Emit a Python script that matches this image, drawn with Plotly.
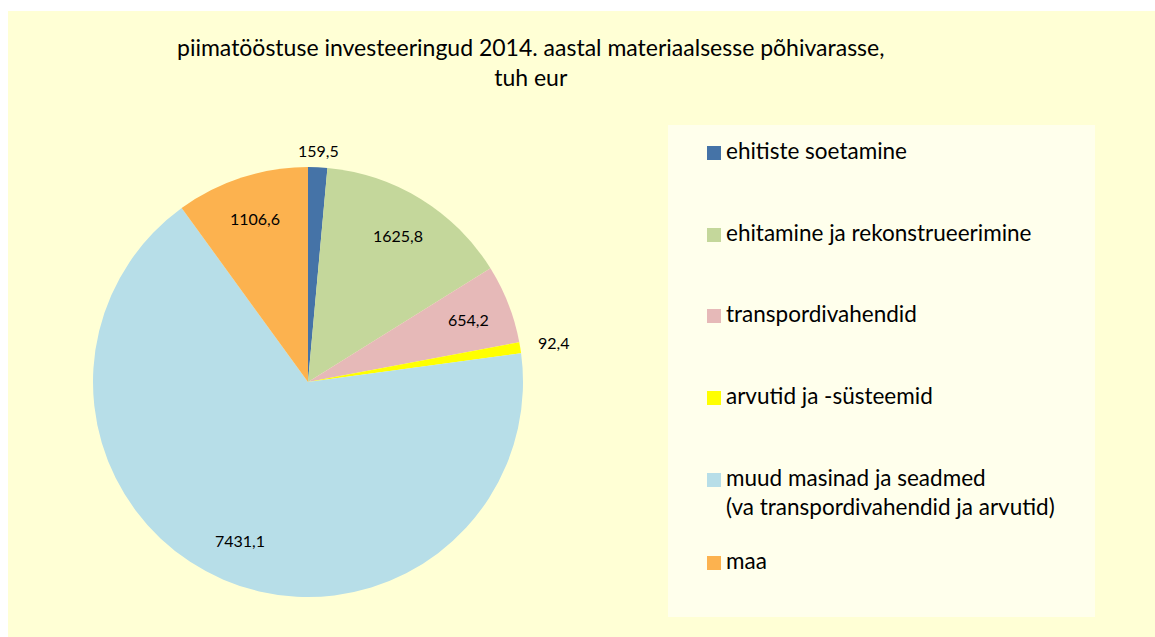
import math
import plotly.graph_objects as go

W, H = 1155, 637

categories = [
    "ehitiste soetamine",
    "ehitamine ja rekonstrueerimine",
    "transpordivahendid",
    "arvutid ja -süsteemid",
    "muud masinad ja seadmed<br>(va transpordivahendid ja arvutid)",
    "maa",
]
values = [159.5, 1625.8, 654.2, 92.4, 7431.1, 1106.6]
colors = ["#4573A7", "#C4D79B", "#E6B9B8", "#FFFF00", "#B7DEE8", "#FCB24F"]
label_outside = [True, False, False, True, False, False]

title = "piimatööstuse investeeringud 2014. aastal materiaalsesse põhivarasse,<br>tuh eur"

FONT = "Lato, Calibri, sans-serif"


def px(x):
    return x / W


def py(y):
    return 1 - y / H


def fmt(v):
    return f"{v:.1f}".replace(".", ",")


# pie: centre (308, 382), radius 215 px
cx, cy, r = 308, 382, 215

fig = go.Figure()
fig.add_trace(go.Pie(
    labels=categories,
    values=values,
    sort=False,
    direction="clockwise",
    rotation=0,
    marker=dict(colors=colors, line=dict(width=0)),
    textinfo="none",
    domain=dict(x=[px(cx - r), px(cx + r)], y=[py(cy + r), py(cy - r)]),
    showlegend=False,
    hoverinfo="label+value",
))

shapes = [
    # chart area
    dict(type="rect", xref="paper", yref="paper", layer="below",
         x0=px(8), x1=1, y0=0, y1=py(11),
         fillcolor="#FFFFD5", line=dict(width=0)),
    # legend box
    dict(type="rect", xref="paper", yref="paper", layer="below",
         x0=px(668), x1=px(1095), y0=py(617), y1=py(125),
         fillcolor="#FFFFEC", line=dict(width=0)),
]

annotations = [
    dict(text=title, x=px(530), y=py(62), xref="paper", yref="paper",
         xanchor="center", yanchor="middle", showarrow=False,
         font=dict(family=FONT, size=23, color="#000000")),
]

# data labels on the slice bisectors
total = sum(values)
cum = 0
for v, out in zip(values, label_outside):
    a = math.radians((cum + v / 2) / total * 360)
    cum += v
    rr = r + 16 + 18 * abs(math.sin(a)) if out else r * 0.8
    annotations.append(dict(
        text=fmt(v), x=px(cx + rr * math.sin(a)), y=py(cy - rr * math.cos(a)),
        xref="paper", yref="paper", xanchor="center", yanchor="middle",
        showarrow=False, font=dict(family=FONT, size=16, color="#000000")))

# legend
legend_y = [153, 235, 316, 398, 480, 563]
for cat, col, ly in zip(categories, colors, legend_y):
    shapes.append(dict(type="rect", xref="paper", yref="paper",
                       x0=px(707), x1=px(721), y0=py(ly + 7), y1=py(ly - 7),
                       fillcolor=col, line=dict(width=0)))
    annotations.append(dict(text=cat, x=px(724), y=py(ly - 18), xref="paper", yref="paper",
                            xanchor="left", yanchor="top", align="left", showarrow=False,
                            font=dict(family=FONT, size=22.5, color="#000000")))

fig.update_layout(
    width=W, height=H,
    margin=dict(l=0, r=0, t=0, b=0),
    paper_bgcolor="#FFFFFF",
    plot_bgcolor="#FFFFFF",
    shapes=shapes,
    annotations=annotations,
)

fig.write_html("out.html", config={"displayModeBar": False},
               post_script="document.body.style.margin='0';")
